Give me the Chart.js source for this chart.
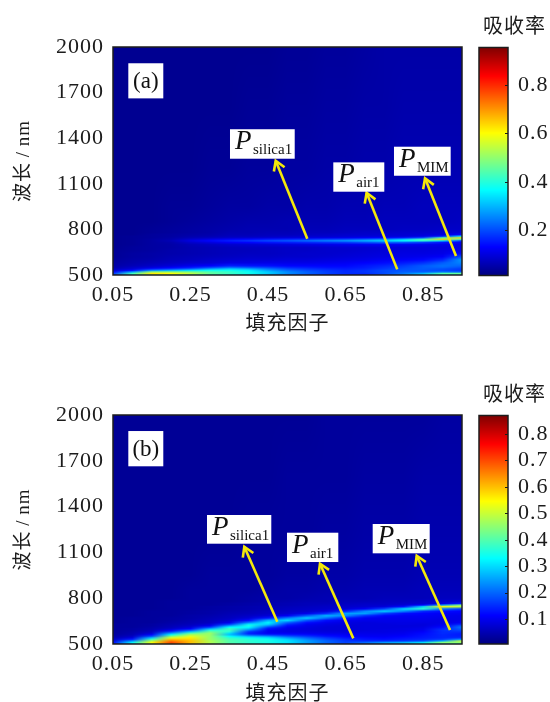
<!DOCTYPE html>
<html><head><meta charset="utf-8">
<script src="https://cdn.jsdelivr.net/npm/chart.js@4"></script>
<style>html,body{margin:0;padding:0;background:#fff;width:550px;height:702px;overflow:hidden;position:relative}canvas{position:absolute}</style>
</head><body>
<script>
const fillFactors=[0.05,0.10,0.15,0.20,0.25,0.30,0.35,0.40,0.45,0.50,0.55,0.60,0.65,0.70,0.75,0.80,0.85,0.90,0.95];
const xTicks=[0.05,0.25,0.45,0.65,0.85];
const yTicks=[500,800,1100,1400,1700,2000];
const xTitle="填充因子";
const yTitle="波长\u2009/\u2009nm";
const barTitle="吸收率";

const wavelengthsA=[500,510,520,530,540,550,560,580,600,620,640,660,680,700,715,725,735,745,755,765,780,800,850,950,1200,1600,2000];
const absorbA=[
[.14,.18,.13,.09,.07,.055,.05,.045,.04,.035,.035,.035,.03,.03,.03,.03,.03,.03,.03,.03,.03,.03,.03,.03,.03,.03,.03],
[.34,.42,.28,.14,.095,.08,.065,.055,.05,.045,.045,.04,.04,.035,.035,.035,.035,.035,.035,.03,.03,.03,.03,.03,.03,.03,.03],
[.52,.62,.5,.26,.15,.1,.08,.065,.055,.05,.05,.045,.045,.045,.045,.045,.045,.04,.04,.04,.035,.035,.03,.03,.03,.03,.03],
[.5,.6,.5,.3,.18,.125,.095,.075,.065,.06,.055,.055,.05,.05,.055,.065,.055,.05,.045,.045,.04,.04,.035,.035,.03,.03,.03],
[.44,.54,.48,.34,.22,.15,.115,.085,.07,.065,.06,.06,.06,.065,.085,.105,.085,.065,.055,.05,.045,.045,.04,.035,.03,.03,.03],
[.38,.46,.44,.38,.28,.19,.13,.09,.08,.07,.065,.065,.065,.075,.105,.135,.105,.075,.06,.055,.05,.05,.045,.04,.035,.03,.03],
[.34,.42,.42,.38,.32,.23,.16,.105,.085,.075,.07,.07,.07,.085,.125,.16,.125,.085,.07,.065,.06,.055,.05,.045,.035,.03,.03],
[.3,.38,.38,.35,.29,.21,.15,.105,.09,.08,.075,.07,.075,.09,.135,.18,.135,.09,.07,.065,.06,.06,.055,.045,.04,.035,.03],
[.26,.32,.32,.28,.24,.19,.145,.11,.09,.08,.075,.075,.075,.095,.15,.2,.15,.095,.075,.07,.065,.06,.055,.05,.04,.035,.03],
[.2,.26,.26,.23,.2,.165,.135,.11,.095,.085,.08,.08,.08,.1,.16,.215,.16,.1,.08,.07,.065,.06,.06,.05,.045,.04,.035],
[.17,.22,.22,.2,.18,.155,.135,.11,.095,.085,.085,.08,.08,.105,.17,.235,.17,.105,.085,.075,.07,.065,.06,.055,.045,.04,.035],
[.15,.19,.19,.18,.165,.145,.135,.115,.1,.09,.085,.085,.085,.11,.18,.255,.185,.11,.085,.08,.07,.065,.06,.055,.05,.045,.04],
[.14,.17,.17,.165,.155,.145,.135,.12,.105,.095,.09,.085,.09,.115,.19,.275,.195,.115,.09,.085,.075,.07,.065,.06,.05,.045,.04],
[.14,.17,.18,.175,.165,.155,.15,.13,.11,.1,.095,.09,.09,.12,.21,.3,.22,.125,.095,.085,.08,.07,.065,.06,.055,.05,.045],
[.18,.2,.2,.2,.185,.175,.165,.14,.12,.105,.1,.095,.095,.12,.23,.33,.25,.135,.095,.09,.08,.07,.07,.065,.055,.05,.05],
[.24,.24,.22,.21,.205,.195,.185,.155,.125,.11,.105,.1,.095,.12,.22,.37,.31,.155,.095,.09,.085,.075,.07,.065,.06,.055,.05],
[.32,.3,.22,.21,.215,.215,.215,.175,.135,.115,.105,.1,.1,.115,.19,.41,.43,.2,.105,.095,.085,.075,.07,.07,.06,.055,.05],
[.38,.44,.24,.2,.205,.225,.235,.215,.165,.125,.11,.105,.1,.11,.15,.33,.64,.44,.15,.1,.09,.08,.07,.07,.06,.055,.05],
[.34,.46,.22,.18,.185,.205,.225,.255,.275,.205,.14,.115,.105,.105,.125,.18,.44,.64,.34,.135,.095,.08,.075,.07,.06,.055,.05]
];
const barTicksA=[0.2,0.4,0.6,0.8];
const rangeA=[0.014,0.954];

const wavelengthsB=[500,510,520,530,540,550,560,570,580,590,600,610,620,630,640,655,670,685,700,715,730,745,755,765,780,800,850,950,1200,1600,2000];
const absorbB=[
[.1,.12,.09,.065,.05,.04,.035,.03,.03,.03, .03,.03,.03,.03,.025,.025,.025,.025,.025, .025,.025,.025,.025,.025,.025,.025,.025,.025,.025,.025,.025],
[.28,.32,.24,.14,.09,.065,.05,.045,.04,.035, .035,.03,.03,.03,.03,.03,.03,.025,.025, .025,.025,.025,.025,.025,.025,.025,.025,.025,.025,.025,.025],
[.5,.54,.48,.38,.28,.18,.12,.08,.06,.05, .045,.04,.035,.035,.03,.03,.03,.03,.03, .03,.025,.025,.025,.025,.025,.025,.025,.025,.025,.025,.025],
[.68,.7,.66,.6,.52,.44,.34,.25,.16,.1, .07,.055,.05,.045,.04,.035,.035,.03,.03, .03,.03,.03,.03,.03,.03,.025,.025,.025,.025,.025,.025],
[.6,.6,.6,.58,.56,.52,.48,.4,.28,.18, .11,.08,.065,.055,.05,.045,.04,.04,.035, .035,.03,.03,.03,.03,.03,.03,.03,.025,.025,.025,.025],
[.46,.48,.48,.46,.46,.46,.46,.46,.42,.36, .26,.16,.1,.075,.06,.055,.05,.045,.04, .04,.035,.035,.03,.03,.03,.03,.03,.03,.025,.025,.025],
[.38,.4,.4,.39,.37,.33,.28,.3,.36,.38, .38,.33,.24,.15,.095,.07,.06,.055,.05, .045,.04,.04,.035,.035,.03,.03,.03,.03,.025,.025,.025],
[.34,.37,.37,.36,.34,.27,.18,.14,.16,.22, .28,.33,.35,.31,.22,.12,.08,.065,.055, .05,.045,.045,.04,.04,.035,.035,.03,.03,.03,.025,.025],
[.32,.35,.35,.34,.31,.24,.15,.105,.1,.105, .125,.17,.24,.3,.32,.26,.13,.08,.065, .06,.05,.05,.045,.045,.04,.04,.035,.03,.03,.025,.025],
[.28,.31,.31,.29,.25,.19,.135,.105,.09,.09, .095,.105,.125,.155,.2,.3,.22,.105,.075, .065,.06,.055,.05,.05,.045,.04,.04,.035,.03,.03,.025],
[.22,.25,.25,.23,.2,.16,.125,.1,.09,.085, .085,.09,.095,.105,.125,.19,.29,.19,.095, .07,.065,.06,.055,.055,.05,.045,.04,.035,.03,.03,.025],
[.17,.2,.2,.18,.16,.13,.11,.095,.085,.08, .08,.08,.085,.09,.1,.125,.21,.27,.15, .085,.07,.065,.06,.055,.05,.05,.045,.04,.035,.03,.03],
[.15,.17,.16,.15,.13,.115,.105,.095,.085,.08, .08,.08,.08,.085,.09,.1,.135,.23,.25, .135,.08,.07,.065,.06,.055,.05,.045,.04,.035,.03,.03],
[.18,.2,.15,.13,.12,.105,.1,.095,.09,.085, .085,.085,.085,.085,.085,.095,.105,.15,.25, .23,.105,.075,.07,.065,.055,.05,.05,.045,.04,.035,.03],
[.22,.24,.15,.125,.115,.105,.1,.095,.09,.09, .085,.085,.085,.085,.09,.095,.1,.115,.17, .29,.17,.085,.07,.065,.06,.055,.05,.045,.04,.035,.03],
[.26,.26,.16,.135,.125,.115,.105,.1,.095,.09, .09,.085,.085,.09,.09,.095,.1,.105,.125, .23,.3,.125,.08,.07,.06,.055,.05,.045,.04,.035,.03],
[.32,.3,.18,.145,.135,.13,.125,.12,.11,.1, .095,.09,.085,.085,.09,.095,.1,.105,.115, .15,.37,.29,.115,.075,.065,.055,.055,.05,.045,.04,.03],
[.38,.44,.26,.165,.145,.145,.145,.15,.15,.155, .14,.12,.105,.095,.09,.09,.095,.1,.105, .125,.22,.54,.24,.09,.07,.06,.055,.05,.045,.04,.035],
[.34,.46,.5,.24,.155,.14,.135,.14,.155,.175, .195,.215,.185,.135,.105,.095,.095,.095,.105, .115,.165,.48,.44,.135,.075,.06,.055,.05,.045,.04,.035]
];
const barTicksB=[0.1,0.2,0.3,0.4,0.5,0.6,0.7,0.8];
const rangeB=[0.006,0.87];

// callouts in data units: [fill factor, wavelength]
const panelTagA={text:"(a)",box:[0.0895,1893,0.1797,1662]};
const labelsA=[
 {sub:"silica1",box:[0.3517,1459,0.5186,1265],tail:[0.551,739],head:[0.4696,1252]},
 {sub:"air1",box:[0.6181,1241,0.7496,1048],tail:[0.783,537],head:[0.704,1041]},
 {sub:"MIM",box:[0.7746,1344,0.9208,1153],tail:[0.9345,625],head:[0.8546,1136]}
];
const panelTagB={text:"(b)",box:[0.0895,1895,0.1797,1664]};
const labelsB=[
 {sub:"silica1",box:[0.2924,1345,0.4582,1157],tail:[0.4737,646],head:[0.3886,1137]},
 {sub:"air1",box:[0.4987,1229,0.6310,1037],tail:[0.6697,537],head:[0.5838,1026]},
 {sub:"MIM",box:[0.7197,1286,0.8667,1094],tail:[0.9191,592],head:[0.8332,1078]}
];

const SERIF='"Liberation Serif","Noto Sans CJK SC",serif';
const INK='#1c1c1c', YEL='#f4e80a';
const clamp=v=>Math.max(0,Math.min(1,v));
function jet(t){t=clamp(t);return [
 255*clamp(Math.min(4*t-1.5,-4*t+4.5)),
 255*clamp(Math.min(4*t-0.5,-4*t+3.5)),
 255*clamp(Math.min(4*t+0.5,-4*t+2.5))];}
function locate(arr,v){let i=0;while(i<arr.length-2&&arr[i+1]<v)i++;
 return [i,clamp((v-arr[i])/(arr[i+1]-arr[i]))];}

function heatPlugin(ys,matrix,range){return {id:'heat',beforeDatasetsDraw(chart){
 const {ctx,chartArea:a,scales:{x,y}}=chart;
 const m=4,W=Math.round(a.right-a.left)+2*m,H=Math.round(a.bottom-a.top)+2*m;
 const off=document.createElement('canvas');off.width=W;off.height=H;
 const oc=off.getContext('2d'),img=oc.createImageData(W,H);
 const rgb=matrix.map(col=>col.map(v=>jet((v-range[0])/(range[1]-range[0]))));
 for(let j=0;j<H;j++){const [r,fr]=locate(ys,y.getValueForPixel(a.top-m+j+0.5));
  for(let i=0;i<W;i++){const [c,fc]=locate(fillFactors,x.getValueForPixel(a.left-m+i+0.5));
   for(let k=0;k<3;k++){
    const top=rgb[c][r][k]*(1-fc)+rgb[c+1][r][k]*fc;
    const bot=rgb[c][r+1][k]*(1-fc)+rgb[c+1][r+1][k]*fc;
    img.data[(j*W+i)*4+k]=top*(1-fr)+bot*fr;}
   img.data[(j*W+i)*4+3]=255;}}
 oc.putImageData(img,0,0);
 ctx.save();ctx.beginPath();ctx.rect(a.left,a.top,a.right-a.left,a.bottom-a.top);ctx.clip();
 ctx.filter='blur(0.7px)';ctx.drawImage(off,a.left-m,a.top-m);ctx.filter='none';ctx.restore();
}};}

function calloutPlugin(tag,labels){return {id:'callout',afterDatasetsDraw(chart){
 const {ctx,chartArea:a,scales:{x,y}}=chart;
 ctx.save();
 ctx.strokeStyle=YEL;ctx.lineWidth=2.6;ctx.lineCap='butt';
 labels.forEach(l=>{const tx=x.getPixelForValue(l.tail[0]),ty=y.getPixelForValue(l.tail[1]),
   hx=x.getPixelForValue(l.head[0]),hy=y.getPixelForValue(l.head[1]);
  const an=Math.atan2(hy-ty,hx-tx),len=11,sp=0.55;
  ctx.beginPath();
  ctx.moveTo(hx-len*Math.cos(an-sp),hy-len*Math.sin(an-sp));ctx.lineTo(hx,hy);
  ctx.lineTo(hx-len*Math.cos(an+sp),hy-len*Math.sin(an+sp));ctx.stroke();});
 const box=b=>{const l=x.getPixelForValue(b[0]),t=y.getPixelForValue(b[1]),r=x.getPixelForValue(b[2]),bo=y.getPixelForValue(b[3]);
  ctx.fillStyle='#fff';ctx.fillRect(l,t,r-l,bo-t);return [l,t,r,bo];};
 ctx.letterSpacing='0px';
 const [tl,tt,tr,tb]=box(tag.box);
 ctx.fillStyle='#111';ctx.font='23px '+SERIF;ctx.textAlign='center';ctx.textBaseline='alphabetic';
 ctx.fillText(tag.text,(tl+tr)/2,(tt+tb)/2+7);
 labels.forEach(l=>{const [bl,bt]=box(l.box);
  ctx.fillStyle='#111';ctx.textAlign='left';
  ctx.font='italic 27px '+SERIF;ctx.fillText('P',bl+5,bt+20);
  ctx.font='15px '+SERIF;ctx.fillText(l.sub,bl+23,bt+25);});
 ctx.strokeStyle=INK;ctx.lineWidth=1.5;ctx.strokeRect(a.left,a.top,a.right-a.left,a.bottom-a.top);
 ctx.restore();
}};}

const spacing={id:'spacing',beforeDraw(chart){chart.ctx.letterSpacing='1px';}};

function mainChart(cv,o){
 const points=[];o.matrix.forEach((col,i)=>col.forEach((v,j)=>points.push({x:fillFactors[i],y:o.ys[j],v})));
 const datasets=[{data:points,pointRadius:0,showLine:false}].concat(o.labels.map(l=>({
   data:[{x:l.tail[0],y:l.tail[1]},{x:l.head[0],y:l.head[1]}],
   showLine:true,pointRadius:0,borderColor:YEL,borderWidth:2.6,borderCapStyle:'butt'})));
 return new Chart(cv,{type:'scatter',data:{datasets},
  plugins:[spacing,heatPlugin(o.ys,o.matrix,o.range),calloutPlugin(o.tag,o.labels)],
  options:{responsive:false,animation:false,events:[],
   layout:{padding:{left:0,right:8,top:o.top,bottom:0}},
   plugins:{legend:{display:false},tooltip:{enabled:false},title:{display:false}},
   scales:{
    x:{type:'linear',min:0.05,max:0.95,
     afterBuildTicks:s=>{s.ticks=xTicks.map(value=>({value}));},
     afterFit:s=>{s.height=o.xh;},
     grid:{display:false,drawTicks:false},border:{display:false},
     ticks:{color:INK,padding:o.xpad,maxRotation:0,autoSkip:false,font:{family:SERIF,size:22},callback:v=>v.toFixed(2)},
     title:{display:true,text:xTitle,color:INK,font:{family:SERIF,size:20},padding:{top:0,bottom:o.xtb}}},
    y:{type:'linear',min:500,max:2000,
     afterBuildTicks:s=>{s.ticks=yTicks.map(value=>({value}));},
     afterFit:s=>{s.width=113;},
     grid:{display:false,drawTicks:false},border:{display:false},
     ticks:{color:INK,padding:9,autoSkip:false,font:{family:SERIF,size:22},callback:v=>String(v)},
     title:{display:true,text:yTitle,color:INK,font:{family:SERIF,size:19},padding:{top:13,bottom:0}}}
   }}});
}

function barChart(cv,o){
 const shade={id:'shade',beforeDatasetsDraw(chart){
  const {ctx,chartArea:a,scales:{y}}=chart;
  for(let p=Math.floor(a.top);p<a.bottom;p++){
   const v=y.getValueForPixel(p+0.5),c=jet((v-o.range[0])/(o.range[1]-o.range[0]));
   ctx.fillStyle=`rgb(${c.map(Math.round).join(',')})`;ctx.fillRect(a.left,p,a.right-a.left,1);}
  ctx.strokeStyle=INK;ctx.lineWidth=1;
  o.ticks.forEach(t=>{const py=Math.round(y.getPixelForValue(t))+0.5;
   ctx.beginPath();ctx.moveTo(a.right-3,py);ctx.lineTo(a.right,py);ctx.stroke();});
  ctx.lineWidth=1.5;ctx.strokeRect(a.left,a.top,a.right-a.left,a.bottom-a.top);
 }};
 return new Chart(cv,{type:'scatter',data:{datasets:[{data:o.ticks.map(t=>({x:0,y:t})),pointRadius:0,showLine:false}]},
  plugins:[spacing,shade],
  options:{responsive:false,animation:false,events:[],
   layout:{padding:{left:3,right:0,top:o.top,bottom:o.bottom}},
   plugins:{legend:{display:false},tooltip:{enabled:false},
    title:{display:true,text:barTitle,color:INK,font:{family:'"Noto Sans CJK SC",sans-serif',size:20,weight:'normal'},padding:{top:o.tp,bottom:o.tb}}},
   scales:{
    x:{display:false,min:-1,max:1},
    y:{type:'linear',position:'right',min:o.range[0],max:o.range[1],
     afterBuildTicks:s=>{s.ticks=o.ticks.map(value=>({value}));},
     afterFit:s=>{s.width=42;},
     grid:{display:false,drawTicks:false},border:{display:false},
     ticks:{color:INK,padding:10,autoSkip:false,font:{family:SERIF,size:22},callback:v=>v.toFixed(1)}}
   }}});
}

function addCanvas(l,t,w,h){const c=document.createElement('canvas');c.width=w;c.height=h;
 c.style.left=l+'px';c.style.top=t+'px';c.style.width=w+'px';c.style.height=h+'px';document.body.appendChild(c);return c;}

mainChart(addCanvas(0,0,470,345),{ys:wavelengthsA,matrix:absorbA,range:rangeA,tag:panelTagA,labels:labelsA,top:47,xh:70,xpad:7,xtb:8});
mainChart(addCanvas(0,370,470,345),{ys:wavelengthsB,matrix:absorbB,range:rangeB,tag:panelTagB,labels:labelsB,top:45,xh:71,xpad:7,xtb:8});
barChart(addCanvas(476,0,74,300),{range:rangeA,ticks:barTicksA,top:0,bottom:24.5,tp:13,tb:10.5});
barChart(addCanvas(476,370,74,300),{range:rangeB,ticks:barTicksB,top:0,bottom:26,tp:11,tb:10.5});
</script>
</body></html>
